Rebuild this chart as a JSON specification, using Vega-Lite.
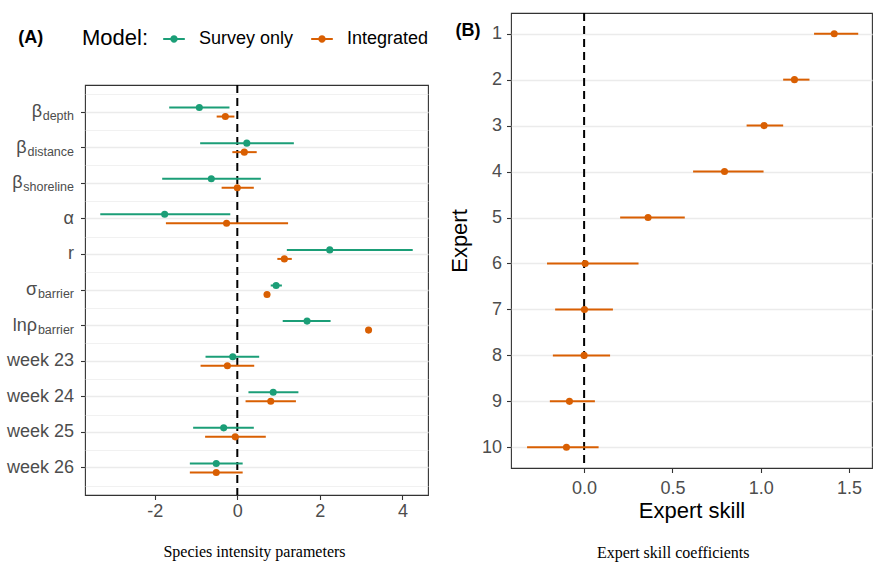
{
  "$schema": "https://vega.github.io/schema/vega-lite/v6.json",
  "padding": {"left": 5, "top": 11, "right": 0, "bottom": 0},
  "background": "white",
  "config": {
    "font": "Liberation Sans",
    "view": {"stroke": "#333333", "strokeWidth": 1.1},
    "axis": {"labelFont": "Liberation Sans", "labelFontSize": 18, "labelColor": "#4D4D4D", "titleFont": "Liberation Sans", "titleFontSize": 22, "titleColor": "black", "titleFontWeight": "normal", "tickColor": "#333333", "tickSize": 4.5, "tickWidth": 1.1, "gridColor": "#EBEBEB", "domain": false, "labelOverlap": false, "labelFlush": false, "labelBound": false}
  },
  "datasets": {
    "models": [{"model": "Survey only"}, {"model": "Integrated"}],
    "left": [
      {"param": "b_depth", "model": "Survey only", "est": -0.92, "lo": -1.65, "hi": -0.19},
      {"param": "b_depth", "model": "Integrated", "est": -0.29, "lo": -0.50, "hi": -0.07},
      {"param": "b_distance", "model": "Survey only", "est": 0.23, "lo": -0.90, "hi": 1.37},
      {"param": "b_distance", "model": "Integrated", "est": 0.17, "lo": -0.12, "hi": 0.47},
      {"param": "b_shoreline", "model": "Survey only", "est": -0.63, "lo": -1.82, "hi": 0.57},
      {"param": "b_shoreline", "model": "Integrated", "est": 0.0, "lo": -0.38, "hi": 0.40},
      {"param": "alpha", "model": "Survey only", "est": -1.76, "lo": -3.32, "hi": -0.17},
      {"param": "alpha", "model": "Integrated", "est": -0.26, "lo": -1.73, "hi": 1.23},
      {"param": "r", "model": "Survey only", "est": 2.24, "lo": 1.20, "hi": 4.25},
      {"param": "r", "model": "Integrated", "est": 1.14, "lo": 0.97, "hi": 1.32},
      {"param": "sigma", "model": "Survey only", "est": 0.94, "lo": 0.81, "hi": 1.08},
      {"param": "sigma", "model": "Integrated", "est": 0.72, "lo": 0.70, "hi": 0.74},
      {"param": "lnrho", "model": "Survey only", "est": 1.69, "lo": 1.10, "hi": 2.26},
      {"param": "lnrho", "model": "Integrated", "est": 3.18, "lo": 3.15, "hi": 3.21},
      {"param": "week 23", "model": "Survey only", "est": -0.11, "lo": -0.77, "hi": 0.53},
      {"param": "week 23", "model": "Integrated", "est": -0.24, "lo": -0.89, "hi": 0.41},
      {"param": "week 24", "model": "Survey only", "est": 0.87, "lo": 0.27, "hi": 1.48},
      {"param": "week 24", "model": "Integrated", "est": 0.81, "lo": 0.20, "hi": 1.42},
      {"param": "week 25", "model": "Survey only", "est": -0.33, "lo": -1.07, "hi": 0.40},
      {"param": "week 25", "model": "Integrated", "est": -0.05, "lo": -0.78, "hi": 0.69},
      {"param": "week 26", "model": "Survey only", "est": -0.51, "lo": -1.15, "hi": 0.13},
      {"param": "week 26", "model": "Integrated", "est": -0.51, "lo": -1.15, "hi": 0.13}
    ],
    "right": [
      {"expert": 1, "est": 1.416, "lo": 1.302, "hi": 1.552},
      {"expert": 2, "est": 1.191, "lo": 1.127, "hi": 1.276},
      {"expert": 3, "est": 1.019, "lo": 0.920, "hi": 1.127},
      {"expert": 4, "est": 0.795, "lo": 0.617, "hi": 1.016},
      {"expert": 5, "est": 0.362, "lo": 0.204, "hi": 0.570},
      {"expert": 6, "est": 0.006, "lo": -0.210, "hi": 0.308},
      {"expert": 7, "est": 0.002, "lo": -0.164, "hi": 0.163},
      {"expert": 8, "est": 0.0, "lo": -0.177, "hi": 0.147},
      {"expert": 9, "est": -0.083, "lo": -0.194, "hi": 0.061},
      {"expert": 10, "est": -0.100, "lo": -0.323, "hi": 0.082}
    ]
  },
  "spacing": 18,
  "resolve": {"scale": {"color": "independent"}, "legend": {"color": "independent"}},
  "hconcat": [
    {
      "spacing": 0,
      "resolve": {"scale": {"color": "independent"}, "legend": {"color": "independent"}},
      "title": {"text": "Species intensity parameters", "orient": "bottom", "anchor": "middle", "frame": "bounds", "font": "Liberation Serif", "fontSize": 16, "fontWeight": "normal", "color": "black", "offset": 23, "dx": 37},
      "vconcat": [
        {
          "width": 343,
          "height": 70,
          "view": {"stroke": null},
          "data": {"name": "models"},
          "title": {"text": "(A)", "orient": "top", "anchor": "start", "frame": "group", "fontSize": 18, "fontWeight": "bold", "color": "black", "dx": -66.7, "offset": -34},
          "mark": {"type": "point", "filled": true, "opacity": 0},
          "encoding": {
            "color": {
              "field": "model", "type": "nominal",
              "scale": {"domain": ["Survey only", "Integrated"], "range": ["#1B9E77", "#D95F02"]},
              "legend": {
                "orient": "none", "legendX": -3, "legendY": 15, "direction": "horizontal",
                "title": "Model:", "titleOrient": "left", "titleFontSize": 22, "titleFontWeight": "normal", "titleColor": "black", "titlePadding": 14,
                "labelFontSize": 18, "labelColor": "black", "labelOffset": 14, "columnPadding": 17,
                "symbolType": "M-1,-0.1L1,-0.1L1,0.1L-1,0.1Z M0.34,0A0.34,0.34 0 1,1 -0.34,0A0.34,0.34 0 1,1 0.34,0Z",
                "symbolSize": 467, "symbolStrokeWidth": 0, "symbolOpacity": 1
              }
            }
          }
        },
        {
          "width": 343,
          "height": 410,
          "data": {"name": "left"},
          "resolve": {"axis": {"y": "independent"}},
          "layer": [
            {
              "data": {"values": [{}]},
              "mark": {"type": "rule", "color": "black", "strokeDash": [8, 5], "strokeWidth": 2},
              "encoding": {
                "x": {"datum": 0, "type": "quantitative", "title": null,
                  "scale": {"domain": [-3.69, 4.62], "nice": false, "zero": false},
                  "axis": {"values": [-3, -2, -1, 0, 1, 2, 3, 4], "labelExpr": "datum.value % 2 == 0 ? '' + datum.value : ''",
                    "gridWidth": {"condition": {"test": "datum.value % 2 != 0", "value": 0.7}, "value": 1.4},
                    "tickOpacity": {"condition": {"test": "datum.value % 2 != 0", "value": 0}, "value": 1},
                    "labelPadding": 3, "title": null}
                }
              }
            },
            {
              "transform": [{"filter": "datum.model == 'Survey only'"}],
              "mark": {"type": "rule", "strokeWidth": 2, "yOffset": -4.5},
              "encoding": {
                "y": {"field": "param", "type": "nominal", "sort": null,
                  "scale": {"type": "band", "domain": ["b_depth", "b_distance", "b_shoreline", "alpha", "r", "sigma", "lnrho", "week 23", "week 24", "week 25", "week 26"], "paddingInner": 0, "paddingOuter": 0.26},
                  "axis": {"orient": "left", "title": null, "grid": true, "gridWidth": 1.4, "tickBand": "center",
                    "labelExpr": "(datum.value == 'b_depth' || datum.value == 'b_distance' || datum.value == 'b_shoreline') ? 'β' : datum.value == 'alpha' ? 'α' : datum.value == 'sigma' ? 'σ' : datum.value == 'lnrho' ? 'lnρ' : datum.value",
                    "labelPadding": {"expr": "datum.value == 'b_depth' ? 39 : datum.value == 'b_distance' ? 54.5 : datum.value == 'b_shoreline' ? 58.5 : (datum.value == 'sigma' || datum.value == 'lnrho') ? 44 : 7"}}
                },
                "x": {"field": "lo", "type": "quantitative", "title": null, "scale": {"domain": [-3.69, 4.62], "nice": false, "zero": false}},
                "x2": {"field": "hi", "title": null},
                "color": {"field": "model", "type": "nominal", "scale": {"domain": ["Survey only", "Integrated"], "range": ["#1B9E77", "#D95F02"]}, "legend": null}
              }
            },
            {
              "transform": [{"filter": "datum.model == 'Survey only'"}],
              "mark": {"type": "point", "filled": true, "opacity": 1, "size": 50, "strokeWidth": 0, "yOffset": -4.5},
              "encoding": {
                "y": {"field": "param", "type": "nominal", "sort": null,
                  "scale": {"type": "band", "domain": ["b_depth", "b_distance", "b_shoreline", "alpha", "r", "sigma", "lnrho", "week 23", "week 24", "week 25", "week 26"], "paddingInner": 0, "paddingOuter": 0.26},
                  "axis": {"orient": "left", "title": null, "grid": false, "ticks": true, "tickOpacity": 0, "tickBand": "center", "labelFontSize": 12.5, "labelPadding": 7, "labelOffset": 4,
                    "labelExpr": "datum.value == 'b_depth' ? 'depth' : datum.value == 'b_distance' ? 'distance' : datum.value == 'b_shoreline' ? 'shoreline' : (datum.value == 'sigma' || datum.value == 'lnrho') ? 'barrier' : ''"}
                },
                "x": {"field": "est", "type": "quantitative", "title": null, "scale": {"domain": [-3.69, 4.62], "nice": false, "zero": false}},
                "color": {"field": "model", "type": "nominal", "scale": {"domain": ["Survey only", "Integrated"], "range": ["#1B9E77", "#D95F02"]}, "legend": null}
              }
            },
            {
              "transform": [{"filter": "datum.model == 'Integrated'"}],
              "mark": {"type": "rule", "strokeWidth": 2, "yOffset": 4.5},
              "encoding": {
                "y": {"field": "param", "type": "nominal", "sort": null,
                  "scale": {"type": "band", "domain": ["b_depth", "b_distance", "b_shoreline", "alpha", "r", "sigma", "lnrho", "week 23", "week 24", "week 25", "week 26"], "paddingInner": 0, "paddingOuter": 0.26},
                  "axis": {"orient": "left", "title": null, "grid": true, "gridWidth": 0.7, "tickBand": "extent", "labels": false, "ticks": false}
                },
                "x": {"field": "lo", "type": "quantitative", "title": null, "scale": {"domain": [-3.69, 4.62], "nice": false, "zero": false}},
                "x2": {"field": "hi", "title": null},
                "color": {"field": "model", "type": "nominal", "scale": {"domain": ["Survey only", "Integrated"], "range": ["#1B9E77", "#D95F02"]}, "legend": null}
              }
            },
            {
              "transform": [{"filter": "datum.model == 'Integrated'"}],
              "mark": {"type": "point", "filled": true, "opacity": 1, "size": 50, "strokeWidth": 0, "yOffset": 4.5},
              "encoding": {
                "y": {"field": "param", "type": "nominal", "sort": null,
                  "scale": {"type": "band", "domain": ["b_depth", "b_distance", "b_shoreline", "alpha", "r", "sigma", "lnrho", "week 23", "week 24", "week 25", "week 26"], "paddingInner": 0, "paddingOuter": 0.26},
                  "axis": null
                },
                "x": {"field": "est", "type": "quantitative", "title": null, "scale": {"domain": [-3.69, 4.62], "nice": false, "zero": false}},
                "color": {"field": "model", "type": "nominal", "scale": {"domain": ["Survey only", "Integrated"], "range": ["#1B9E77", "#D95F02"]}, "legend": null}
              }
            }
          ]
        }
      ]
    },
    {
      "title": {"text": "Expert skill coefficients", "orient": "bottom", "anchor": "middle", "frame": "bounds", "font": "Liberation Serif", "fontSize": 16, "fontWeight": "normal", "color": "black", "offset": 23, "dx": 13},
      "vconcat": [
        {
          "width": 361,
          "height": 455,
          "data": {"name": "right"},
          "title": {"text": "(B)", "orient": "top", "anchor": "start", "frame": "bounds", "fontSize": 18, "fontWeight": "bold", "color": "black", "dx": 7, "offset": -27.5},
          "layer": [
            {
              "data": {"values": [{}]},
              "mark": {"type": "rule", "color": "black", "strokeDash": [8, 5], "strokeWidth": 2},
              "encoding": {
                "x": {"datum": 0, "type": "quantitative",
                  "scale": {"domain": [-0.414, 1.63], "nice": false, "zero": false},
                  "axis": {"values": [-0.25, 0, 0.25, 0.5, 0.75, 1, 1.25, 1.5], "labelExpr": "(datum.value * 4) % 2 == 0 ? format(datum.value, '.1f') : ''",
                    "gridWidth": {"condition": {"test": "(datum.value * 4) % 2 != 0", "value": 0.7}, "value": 1.4},
                    "tickOpacity": {"condition": {"test": "(datum.value * 4) % 2 != 0", "value": 0}, "value": 1},
                    "labelPadding": 7, "title": "Expert skill", "titlePadding": 3}
                }
              }
            },
            {
              "mark": {"type": "rule", "strokeWidth": 2, "color": "#D95F02"},
              "encoding": {
                "y": {"field": "expert", "type": "quantitative",
                  "scale": {"domain": [0.55, 10.45], "reverse": true, "nice": false, "zero": false},
                  "axis": {"values": [1, 1.5, 2, 2.5, 3, 3.5, 4, 4.5, 5, 5.5, 6, 6.5, 7, 7.5, 8, 8.5, 9, 9.5, 10], "labelExpr": "datum.value % 1 == 0 ? '' + datum.value : ''",
                    "gridWidth": {"condition": {"test": "datum.value % 1 != 0", "value": 0.7}, "value": 1.4},
                    "tickOpacity": {"condition": {"test": "datum.value % 1 != 0", "value": 0}, "value": 1},
                    "labelPadding": 5, "title": "Expert", "titlePadding": 10}
                },
                "x": {"field": "lo", "type": "quantitative", "title": "Expert skill", "scale": {"domain": [-0.414, 1.63], "nice": false, "zero": false}},
                "x2": {"field": "hi"}
              }
            },
            {
              "mark": {"type": "point", "filled": true, "opacity": 1, "size": 50, "strokeWidth": 0, "color": "#D95F02"},
              "encoding": {
                "y": {"field": "expert", "type": "quantitative", "title": "Expert", "scale": {"domain": [0.55, 10.45], "reverse": true, "nice": false, "zero": false}},
                "x": {"field": "est", "type": "quantitative", "title": "Expert skill", "scale": {"domain": [-0.414, 1.63], "nice": false, "zero": false}}
              }
            }
          ]
        }
      ]
    }
  ]
}
